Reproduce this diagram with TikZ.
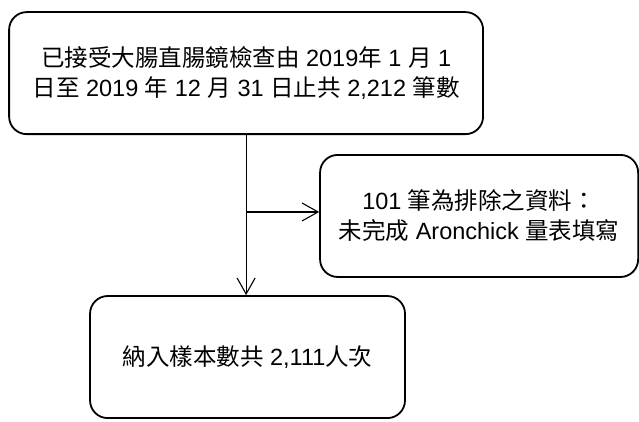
\documentclass[tikz,border=0pt]{standalone}
\usepackage{fontspec}
\setmainfont{Liberation Sans}
\newfontfamily\cjk{Noto Sans CJK TC}
\newcommand{\zh}[1]{{\cjk #1}}
\usetikzlibrary{positioning, arrows.meta, calc}

\begin{document}
\begin{tikzpicture}[
    arrow/.style={
        -{Straight Barb[length=16pt, width=18pt, line width=1.1pt]},
        line width=1.1pt
    },
    box/.style={
        rectangle,
        rounded corners=0.62cm,
        draw,
        line width=1.8pt,
        minimum height=4.29cm,
        align=center,
        inner sep=0pt,
        font=\fontsize{23.5}{30}\selectfont
    }
]
    \useasboundingbox (0,0) rectangle (22.46,-14.83);

    % Records
    \node[box, minimum width=16.66cm] (records) at (8.65,-2.57)
        {\zh{已接受大腸直腸鏡檢查由} 2019\zh{年} 1 \zh{月} 1\\
         \zh{日至} 2019 \zh{年} 12 \zh{月} 31 \zh{日止共} 2,212 \zh{筆數}};

    % Excluded
    \node[box, minimum width=11.18cm] (excluded) at (16.84,-7.59)
        {\raisebox{-0.15cm}{\parbox{10cm}{\centering
         101 \zh{筆為排除之資料：}\\
         \zh{未完成} Aronchick \zh{量表填寫}}}};

    % Included
    \node[box, minimum width=11.07cm] (included) at (8.70,-12.55)
        {\raisebox{-0.15cm}{\zh{納入樣本數共} 2,111\zh{人次}}};

    \coordinate (split) at (records.south |- 0,-7.45);

    \draw[arrow] (records.south) -- (records.south |- included.north);
    \draw[arrow] (split) -- (excluded.west |- split);
\end{tikzpicture}
\end{document}
